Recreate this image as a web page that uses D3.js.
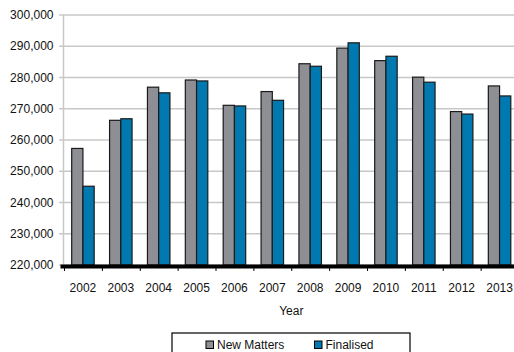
<!DOCTYPE html>
<html>
<head>
<meta charset="utf-8">
<script src="https://cdn.jsdelivr.net/npm/d3@7"></script>
<style>
html,body{margin:0;padding:0;background:#fff;overflow:hidden;}
text{font-family:"Liberation Sans",Arial,Helvetica,sans-serif;}
</style>
</head>
<body>
<svg id="chart" width="514" height="352"></svg>
<script>
const years = ["2002","2003","2004","2005","2006","2007","2008","2009","2010","2011","2012","2013"];
const newMatters = [257300,266300,276900,279200,271100,275500,284400,289400,285400,280100,269100,277300];
const finalised = [245200,266800,275100,278900,270900,272700,283600,291100,286800,278500,268300,274100];
const seriesNames = ["New Matters","Finalised"];
const seriesColors = ["#8e8f94","#0079b0"];
const yTicks = [220000,230000,240000,250000,260000,270000,280000,290000,300000];

(function(){
const svg = d3.select("#chart");
const pLeft = 64, pRight = 518.5, pTop = 15, pBottom = 265;

const x = d3.scaleBand().domain(years).range([pLeft, pRight]).paddingInner(0).paddingOuter(0);
const x1 = d3.scaleBand().domain(seriesNames).range([7.7, x.bandwidth()-7.7]).padding(0);
const y = d3.scaleLinear().domain([220000,300000]).range([pBottom, pTop]);

svg.append("g").selectAll("line").data(yTicks).join("line")
  .attr("x1", pLeft).attr("x2", 514)
  .attr("y1", d=>y(d)).attr("y2", d=>y(d))
  .attr("stroke","#c8c8c8").attr("stroke-width",1.5);
svg.append("line").attr("x1",pLeft-0.5).attr("x2",pLeft-0.5).attr("y1",pTop).attr("y2",pBottom)
  .attr("stroke","#c8c8c8").attr("stroke-width",1.5);
svg.append("g").selectAll("line").data(yTicks).join("line")
  .attr("x1", pLeft-5).attr("x2", pLeft)
  .attr("y1", d=>y(d)).attr("y2", d=>y(d))
  .attr("stroke","#c8c8c8").attr("stroke-width",1.5);

const fmt = d3.format(",");
svg.append("g").selectAll("text").data(yTicks).join("text")
  .attr("x", 53.5).attr("y", d=>y(d)).attr("dy","0.35em")
  .attr("text-anchor","end").attr("font-size",12).attr("fill","#111")
  .text(d=>fmt(d));

const data = years.map((yr,i)=>({year:yr, vals:[newMatters[i], finalised[i]]}));
const groups = svg.append("g").selectAll("g").data(data).join("g")
  .attr("transform", d=>`translate(${x(d.year)},0)`);
groups.selectAll("rect").data(d=>d.vals.map((v,j)=>({v, s:seriesNames[j], c:seriesColors[j]})))
  .join("rect")
  .attr("x", d=>x1(d.s)).attr("width", x1.bandwidth())
  .attr("y", d=>y(d.v)).attr("height", d=>pBottom - y(d.v))
  .attr("fill", d=>d.c).attr("stroke","#1a1a1a").attr("stroke-width",1.2);

svg.append("rect").attr("x", 60.5).attr("y", pBottom-0.5).attr("width", pRight-60.5).attr("height",4).attr("fill","#000");
svg.append("g").selectAll("line").data(years).join("line")
  .attr("x1", d=>x(d)+0.5).attr("x2", d=>x(d)+0.5)
  .attr("y1", pBottom+3).attr("y2", pBottom+6)
  .attr("stroke","#000").attr("stroke-width",1);
svg.append("g").selectAll("text").data(years).join("text")
  .attr("x", d=>x(d)+x.bandwidth()/2).attr("y", 292)
  .attr("text-anchor","middle").attr("font-size",12).attr("fill","#111")
  .text(d=>d);
svg.append("text").attr("x",(pLeft+pRight)/2).attr("y",315).attr("text-anchor","middle")
  .attr("font-size",12).attr("fill","#111").text("Year");

svg.append("rect").attr("x",172).attr("y",333).attr("width",238).attr("height",30)
  .attr("fill","#fff").attr("stroke","#000").attr("stroke-width",1.2);
const legX = [206, 314.5];
const leg = svg.append("g").selectAll("g").data(seriesNames).join("g")
  .attr("transform",(d,i)=>`translate(${legX[i]},341)`);
leg.append("rect").attr("width",7.5).attr("height",7.5)
  .attr("fill",(d,i)=>seriesColors[i]).attr("stroke","#000").attr("stroke-width",1);
leg.append("text").attr("x",11).attr("y",4).attr("dy","0.35em")
  .attr("font-size",12).attr("fill","#111").text(d=>d);
})();
</script>
</body>
</html>
